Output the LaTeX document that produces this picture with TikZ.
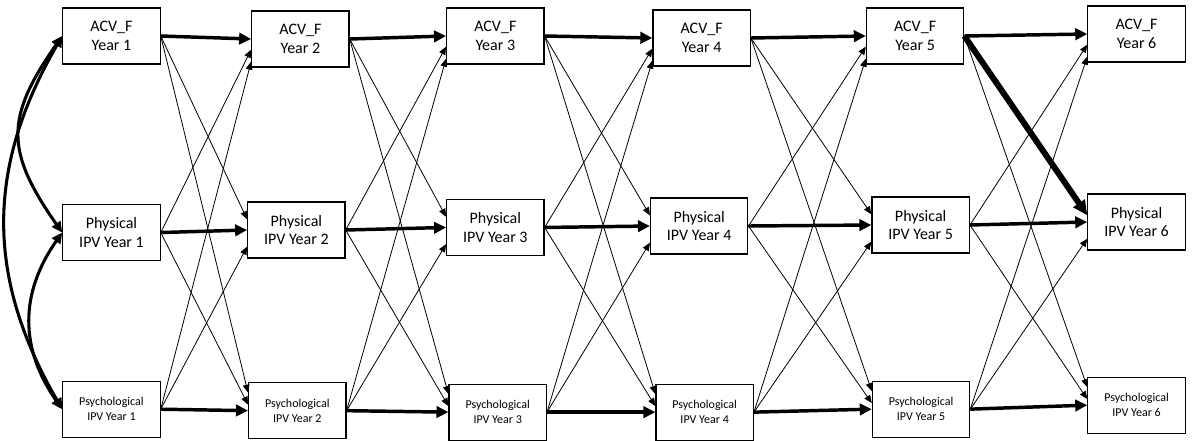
\documentclass[tikz,border=0pt]{standalone}
\usepackage{fontspec}
\setsansfont{Carlito}
\usepackage{tikz}
\usetikzlibrary{arrows.meta, positioning}

\begin{document}
\begin{tikzpicture}[
  font=\sffamily,
  node distance=5pt,
  every node/.style={align=center},
  box/.style={draw, line width=0.9pt, minimum width=73pt, minimum height=42pt, inner sep=2pt, font=\sffamily\fontsize{12}{14}\selectfont},
  psybox/.style={box, font=\sffamily\fontsize{9}{11.5}\selectfont},
  arr/.style={-{Triangle[length=9pt, width=8.5pt]}, line width=2.6pt},
  thinarr/.style={-{Triangle[length=6pt, width=5pt]}, line width=0.6pt},
  boldarr/.style={-{Triangle[length=11pt, width=10pt]}, line width=4.5pt},
  covarr/.style={{Triangle[length=8pt, width=7.5pt]}-{Triangle[length=8pt, width=7.5pt]}, line width=2.3pt},
]
\useasboundingbox (0,0) rectangle (894pt,-330pt);

\node[box] (acv1) at (83.6pt,-27pt) {ACV\_F\\Year 1};
\node[box, right=67.8pt of acv1, yshift=-2.25pt] (acv2) {ACV\_F\\Year 2};
\node[box, right=72.3pt of acv2, yshift=2.25pt] (acv3) {ACV\_F\\Year 3};
\node[box, right=80.8pt of acv3, yshift=-1.5pt] (acv4) {ACV\_F\\Year 4};
\node[box, right=86.2pt of acv4, yshift=1.5pt] (acv5) {ACV\_F\\Year 5};
\node[box, right=92.2pt of acv5, yshift=1.5pt] (acv6) {ACV\_F\\Year 6};

\node[box, below=104.5pt of acv1] (phys1) {Physical\\IPV Year 1};
\node[box, right=64.8pt of phys1, yshift=1.9pt] (phys2) {Physical\\IPV Year 2};
\node[box, right=75.3pt of phys2, yshift=1.9pt] (phys3) {Physical\\IPV Year 3};
\node[box, right=79pt of phys3, yshift=1.1pt] (phys4) {Physical\\IPV Year 4};
\node[box, right=92.2pt of phys4, yshift=0.75pt] (phys5) {Physical\\IPV Year 5};
\node[box, right=88pt of phys5, yshift=2.25pt] (phys6) {Physical\\IPV Year 6};

\node[psybox, below=89.6pt of phys1] (psy1) {Psychological\\IPV Year 1};
\node[psybox, right=65.5pt of psy1, yshift=-1.1pt] (psy2) {Psychological\\IPV Year 2};
\node[psybox, right=76.4pt of psy2, yshift=-1.1pt] (psy3) {Psychological\\IPV Year 3};
\node[psybox, right=81.3pt of psy3] (psy4) {Psychological\\IPV Year 4};
\node[psybox, right=88.4pt of psy4, yshift=2.25pt] (psy5) {Psychological\\IPV Year 5};
\node[psybox, right=87.7pt of psy5, yshift=3pt] (psy6) {Psychological\\IPV Year 6};

\draw[covarr] (acv1.west) to[out=240, in=120, looseness=1.05] (psy1.west);
\draw[covarr] (acv1.west) to[out=235, in=125, looseness=1.3] (phys1.west);
\draw[covarr] (phys1.west) to[out=235, in=125, looseness=1.08] (psy1.west);

\draw[arr] (acv1.east) -- (acv2.west);
\draw[arr] (phys1.east) -- (phys2.west);
\draw[arr] (psy1.east) -- (psy2.west);
\draw[thinarr] (acv1.east) -- ([yshift=8pt]phys2.west);
\draw[thinarr] (acv1.east) -- ([yshift=13.5pt]psy2.west);
\draw[thinarr] (phys1.east) -- ([yshift=-8pt]acv2.west);
\draw[thinarr] (phys1.east) -- ([yshift=4.5pt]psy2.west);
\draw[thinarr] (psy1.east) -- ([yshift=-17pt]acv2.west);
\draw[thinarr] (psy1.east) -- ([yshift=-12.5pt]phys2.west);

\draw[arr] (acv2.east) -- (acv3.west);
\draw[arr] (phys2.east) -- (phys3.west);
\draw[arr] (psy2.east) -- (psy3.west);
\draw[thinarr] (acv2.east) -- ([yshift=8pt]phys3.west);
\draw[thinarr] (acv2.east) -- ([yshift=13.5pt]psy3.west);
\draw[thinarr] (phys2.east) -- ([yshift=-8pt]acv3.west);
\draw[thinarr] (phys2.east) -- ([yshift=4.5pt]psy3.west);
\draw[thinarr] (psy2.east) -- ([yshift=-17pt]acv3.west);
\draw[thinarr] (psy2.east) -- ([yshift=-12.5pt]phys3.west);

\draw[arr] (acv3.east) -- (acv4.west);
\draw[arr] (phys3.east) -- (phys4.west);
\draw[arr] (psy3.east) -- (psy4.west);
\draw[thinarr] (acv3.east) -- ([yshift=8pt]phys4.west);
\draw[thinarr] (acv3.east) -- ([yshift=13.5pt]psy4.west);
\draw[thinarr] (phys3.east) -- ([yshift=-8pt]acv4.west);
\draw[thinarr] (phys3.east) -- ([yshift=4.5pt]psy4.west);
\draw[thinarr] (psy3.east) -- ([yshift=-17pt]acv4.west);
\draw[thinarr] (psy3.east) -- ([yshift=-12.5pt]phys4.west);

\draw[arr] (acv4.east) -- (acv5.west);
\draw[arr] (phys4.east) -- (phys5.west);
\draw[arr] (psy4.east) -- (psy5.west);
\draw[thinarr] (acv4.east) -- ([yshift=8pt]phys5.west);
\draw[thinarr] (acv4.east) -- ([yshift=13.5pt]psy5.west);
\draw[thinarr] (phys4.east) -- ([yshift=-8pt]acv5.west);
\draw[thinarr] (phys4.east) -- ([yshift=4.5pt]psy5.west);
\draw[thinarr] (psy4.east) -- ([yshift=-17pt]acv5.west);
\draw[thinarr] (psy4.east) -- ([yshift=-12.5pt]phys5.west);

\draw[arr] (acv5.east) -- (acv6.west);
\draw[arr] (phys5.east) -- (phys6.west);
\draw[arr] (psy5.east) -- (psy6.west);
\draw[boldarr] (acv5.east) -- ([yshift=5pt]phys6.west);
\draw[thinarr] (acv5.east) -- ([yshift=13.5pt]psy6.west);
\draw[thinarr] (phys5.east) -- ([yshift=-8pt]acv6.west);
\draw[thinarr] (phys5.east) -- ([yshift=4.5pt]psy6.west);
\draw[thinarr] (psy5.east) -- ([yshift=-17pt]acv6.west);
\draw[thinarr] (psy5.east) -- ([yshift=-12.5pt]phys6.west);

\end{tikzpicture}
\end{document}
